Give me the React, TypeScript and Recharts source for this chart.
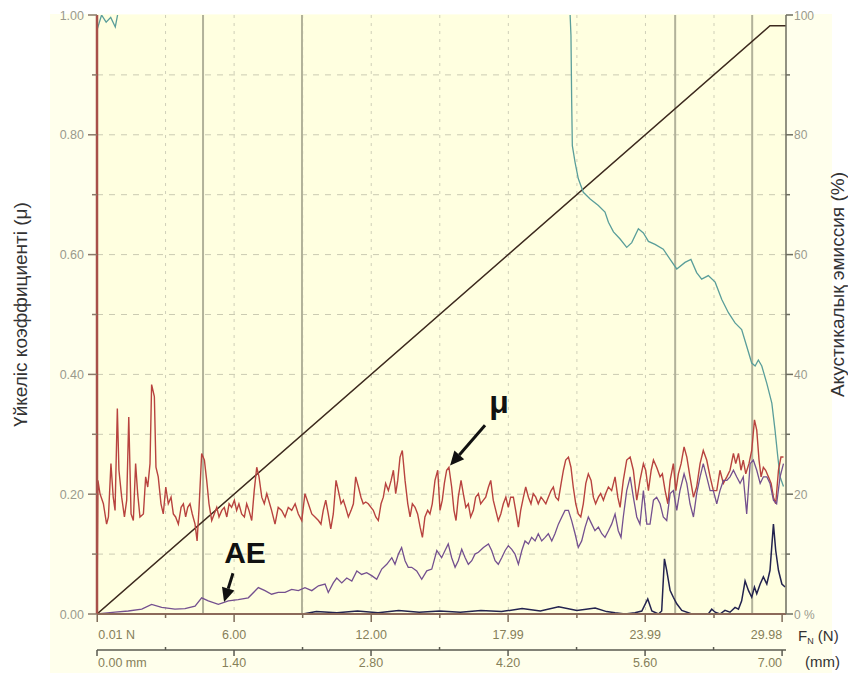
import { LineChart, Line, XAxis, YAxis, CartesianGrid, ReferenceLine, Label } from "recharts";

// scratch test, progressive load 0.01 -> 29.98 N over 7 mm
// each trace is [normal load (N), value]

const muTrace: [number, number][] = [
  [0, 0], [0.04, 0.223], [0.13, 0.201], [0.28, 0.184], [0.42, 0.15], [0.5, 0.162], [0.61, 0.251], [0.71, 0.195],
  [0.79, 0.173], [0.89, 0.343], [0.96, 0.24], [1.08, 0.195], [1.2, 0.162], [1.3, 0.19], [1.39, 0.329], [1.49, 0.167],
  [1.59, 0.156], [1.69, 0.251], [1.78, 0.201], [1.88, 0.162], [2.03, 0.167], [2.13, 0.229], [2.22, 0.212], [2.32, 0.251],
  [2.39, 0.383], [2.51, 0.363], [2.58, 0.245], [2.68, 0.229], [2.8, 0.184], [2.9, 0.167], [3.01, 0.212], [3.12, 0.184],
  [3.24, 0.195], [3.34, 0.167], [3.44, 0.162], [3.56, 0.15], [3.68, 0.178], [3.78, 0.184], [3.88, 0.162], [3.97, 0.178],
  [4.07, 0.184], [4.17, 0.167], [4.29, 0.15], [4.38, 0.122], [4.46, 0.173], [4.58, 0.268], [4.7, 0.257], [4.8, 0.223],
  [4.9, 0.184], [5.02, 0.156], [5.13, 0.167], [5.24, 0.178], [5.34, 0.162], [5.46, 0.173], [5.57, 0.178], [5.68, 0.162],
  [5.78, 0.184], [5.89, 0.178], [6.01, 0.19], [6.11, 0.173], [6.21, 0.184], [6.33, 0.167], [6.45, 0.162], [6.55, 0.184],
  [6.65, 0.173], [6.77, 0.156], [6.88, 0.206], [6.99, 0.245], [7.09, 0.229], [7.21, 0.195], [7.32, 0.184], [7.43, 0.201],
  [7.64, 0.173], [7.79, 0.15], [7.93, 0.178], [8.08, 0.173], [8.23, 0.162], [8.37, 0.178], [8.52, 0.173], [8.67, 0.184],
  [8.81, 0.167], [8.96, 0.156], [9.1, 0.201], [9.25, 0.184], [9.4, 0.167], [9.54, 0.162], [9.69, 0.156], [9.8, 0.15],
  [9.9, 0.173], [10.01, 0.19], [10.12, 0.167], [10.23, 0.142], [10.34, 0.167], [10.46, 0.223], [10.56, 0.206], [10.68, 0.184],
  [10.78, 0.19], [10.88, 0.178], [11.0, 0.162], [11.12, 0.173], [11.22, 0.184], [11.32, 0.229], [11.44, 0.212], [11.55, 0.195],
  [11.65, 0.184], [11.76, 0.187], [11.87, 0.184], [11.99, 0.178], [12.09, 0.173], [12.2, 0.162], [12.31, 0.156], [12.43, 0.184],
  [12.53, 0.195], [12.63, 0.218], [12.75, 0.206], [12.87, 0.223], [12.97, 0.24], [13.07, 0.201], [13.16, 0.223], [13.26, 0.262],
  [13.36, 0.273], [13.48, 0.223], [13.6, 0.184], [13.7, 0.162], [13.8, 0.184], [13.92, 0.178], [14.03, 0.167], [14.14, 0.145],
  [14.24, 0.128], [14.35, 0.162], [14.47, 0.173], [14.57, 0.167], [14.67, 0.184], [14.79, 0.223], [14.91, 0.24], [15.01, 0.173],
  [15.11, 0.19], [15.2, 0.218], [15.3, 0.24], [15.4, 0.245], [15.52, 0.212], [15.62, 0.173], [15.71, 0.156], [15.81, 0.195],
  [15.93, 0.223], [16.03, 0.201], [16.14, 0.178], [16.25, 0.184], [16.35, 0.162], [16.47, 0.173], [16.57, 0.195], [16.69, 0.201],
  [16.79, 0.184], [16.91, 0.19], [17.01, 0.195], [17.13, 0.212], [17.23, 0.223], [17.34, 0.19], [17.45, 0.173], [17.56, 0.156],
  [17.67, 0.167], [17.78, 0.184], [17.89, 0.195], [18.0, 0.178], [18.1, 0.195], [18.22, 0.195], [18.32, 0.173], [18.44, 0.145],
  [18.54, 0.173], [18.66, 0.195], [18.76, 0.212], [18.88, 0.195], [18.99, 0.184], [19.09, 0.201], [19.2, 0.195], [19.31, 0.184],
  [19.43, 0.195], [19.53, 0.19], [19.64, 0.184], [19.75, 0.195], [19.87, 0.206], [19.97, 0.212], [20.07, 0.195], [20.19, 0.19],
  [20.31, 0.218], [20.41, 0.24], [20.51, 0.257], [20.63, 0.262], [20.74, 0.245], [20.84, 0.212], [20.95, 0.184], [21.06, 0.167],
  [21.17, 0.162], [21.28, 0.184], [21.39, 0.218], [21.5, 0.234], [21.62, 0.223], [21.72, 0.195], [21.82, 0.184], [21.94, 0.195],
  [22.04, 0.201], [22.16, 0.19], [22.26, 0.201], [22.38, 0.212], [22.52, 0.206], [22.67, 0.229], [22.79, 0.195], [22.89, 0.178],
  [23.03, 0.223], [23.18, 0.257], [23.33, 0.262], [23.47, 0.24], [23.62, 0.19], [23.76, 0.223], [23.91, 0.251], [24.01, 0.24],
  [24.13, 0.206], [24.25, 0.24], [24.35, 0.257], [24.49, 0.245], [24.64, 0.229], [24.74, 0.234], [24.86, 0.206], [24.98, 0.184],
  [25.08, 0.223], [25.22, 0.251], [25.33, 0.206], [25.44, 0.234], [25.56, 0.251], [25.69, 0.279], [25.81, 0.262], [25.95, 0.229],
  [26.1, 0.195], [26.24, 0.212], [26.39, 0.251], [26.53, 0.273], [26.68, 0.257], [26.83, 0.229], [26.97, 0.206], [27.12, 0.206],
  [27.26, 0.24], [27.41, 0.218], [27.56, 0.229], [27.7, 0.24], [27.85, 0.268], [27.95, 0.251], [28.07, 0.268], [28.18, 0.24],
  [28.28, 0.257], [28.39, 0.234], [28.53, 0.251], [28.65, 0.273], [28.77, 0.324], [28.87, 0.307], [28.97, 0.257], [29.06, 0.229],
  [29.16, 0.245], [29.26, 0.24], [29.38, 0.229], [29.5, 0.218], [29.6, 0.195], [29.7, 0.184], [29.82, 0.24], [29.93, 0.262],
  [30.04, 0.262],
];

// acoustic emission, %
const aeTrace: [number, number][] = [
  [0, 0], [0.79, 0.3], [1.37, 0.5], [1.96, 0.8], [2.39, 1.6], [2.83, 1.1], [3.41, 0.8], [3.85, 0.9], [4.29, 1.3],
  [4.58, 2.7], [4.87, 2.2], [5.31, 1.6], [5.75, 2.2], [6.18, 2.4], [6.62, 2.7], [7.06, 4.4], [7.35, 3.9], [7.64, 3.3],
  [7.93, 3.6], [8.23, 3.6], [8.52, 4.1], [8.81, 3.9], [9.1, 4.4], [9.4, 3.9], [9.69, 4.7], [9.98, 5.0], [10.12, 3.6],
  [10.34, 5.2], [10.49, 6.0], [10.71, 5.2], [10.93, 6.0], [11.15, 5.5], [11.37, 7.2], [11.58, 6.6], [11.8, 6.9],
  [12.02, 6.4], [12.24, 5.8], [12.46, 7.5], [12.68, 8.3], [12.9, 9.4], [13.04, 8.3], [13.19, 10.0], [13.33, 11.1],
  [13.48, 8.9], [13.62, 7.8], [13.77, 7.8], [13.99, 7.2], [14.21, 5.8], [14.43, 7.2], [14.65, 7.5], [14.87, 10.6],
  [15.08, 9.4], [15.23, 10.6], [15.37, 11.7], [15.52, 9.4], [15.67, 7.8], [15.81, 8.9], [15.96, 10.8], [16.11, 9.4],
  [16.25, 8.3], [16.4, 8.9], [16.54, 10.0], [16.69, 10.3], [16.91, 11.1], [17.13, 11.7], [17.27, 10.6], [17.42, 8.9],
  [17.56, 8.3], [17.71, 9.4], [17.86, 10.6], [18.0, 11.4], [18.15, 10.8], [18.29, 10.0], [18.44, 8.3], [18.59, 10.6],
  [18.73, 12.2], [18.88, 11.7], [19.02, 12.8], [19.17, 12.2], [19.31, 13.4], [19.46, 12.2], [19.61, 12.8], [19.75, 13.4],
  [19.9, 12.2], [20.04, 13.4], [20.19, 15.0], [20.34, 16.2], [20.48, 17.3], [20.63, 17.3], [20.77, 15.6], [20.92, 13.4],
  [21.06, 11.1], [21.21, 12.2], [21.36, 14.5], [21.5, 16.2], [21.65, 15.0], [21.79, 13.9], [21.94, 14.5], [22.09, 13.4],
  [22.23, 12.8], [22.38, 13.9], [22.52, 15.0], [22.67, 16.7], [22.81, 13.9], [22.93, 12.8], [23.03, 16.2], [23.18, 20.6],
  [23.33, 22.9], [23.47, 19.5], [23.62, 16.2], [23.76, 15.0], [23.91, 20.6], [24.06, 15.0], [24.2, 15.0], [24.35, 19.0],
  [24.49, 19.5], [24.64, 18.4], [24.78, 16.2], [24.93, 15.6], [25.08, 20.1], [25.22, 20.6], [25.37, 17.3], [25.51, 20.6],
  [25.69, 23.4], [25.81, 21.8], [25.95, 18.4], [26.1, 16.2], [26.24, 20.1], [26.39, 22.9], [26.53, 25.1], [26.68, 22.9],
  [26.83, 20.6], [26.97, 20.6], [27.12, 18.4], [27.26, 20.6], [27.41, 22.3], [27.56, 22.3], [27.7, 22.9], [27.85, 24.0],
  [27.99, 22.9], [28.14, 21.8], [28.28, 22.9], [28.43, 16.7], [28.58, 25.1], [28.72, 25.7], [28.87, 24.0], [29.02, 21.8],
  [29.16, 22.9], [29.31, 22.9], [29.45, 21.8], [29.6, 19.0], [29.74, 18.4], [29.89, 22.9], [30.04, 25.1],
];

// burst signal, %
const burstTrace: [number, number][] = [
  [0, 0], [9.0, 0], [9.6, 0.4], [10.5, 0.2], [11.4, 0.5], [12.3, 0.2], [13.2, 0.6], [14.1, 0.3], [15.0, 0.5],
  [15.9, 0.3], [16.8, 0.6], [17.7, 0.4], [18.6, 0.9], [19.4, 0.5], [20.2, 1.2], [21.0, 0.6], [21.8, 1.0], [22.3, 0.4],
  [22.67, 0.2], [23.11, 0], [23.54, 0.2], [23.84, 0.5], [24.1, 2.5], [24.28, 0.5], [24.57, 0], [24.71, 0.5],
  [24.83, 9.2], [24.93, 7.3], [25.08, 3.9], [25.22, 2.8], [25.37, 1.7], [25.59, 0.6], [26.03, 0], [26.46, 0],
  [26.75, 0], [26.9, 0.8], [27.05, 0.3], [27.26, 0], [27.48, 0.6], [27.7, 0.3], [27.92, 1.1], [28.07, 0.8],
  [28.21, 2.2], [28.36, 5.5], [28.51, 3.9], [28.65, 2.8], [28.77, 4.5], [28.87, 3.4], [29.02, 5.0], [29.16, 6.2],
  [29.31, 5.0], [29.45, 7.3], [29.6, 15.0], [29.7, 10.6], [29.82, 7.3], [29.97, 5.0], [30.11, 4.5],
];

// depth trace, % of full scale (runs off the top between ~1 and ~20.7 N)
const depthTrace: [number, number][] = [
  [0, 97.5], [0.2, 100], [0.4, 98.8], [0.6, 99.6], [0.8, 98], [0.95, 101], [1.1, 112], [20.6, 112],
  [20.7, 100.3], [20.74, 96.6], [20.77, 86], [20.8, 78.2], [20.92, 75.4], [21.06, 72.7], [21.28, 70.4],
  [21.58, 69.3], [21.94, 68.2], [22.23, 67.1], [22.38, 65.4], [22.6, 63.8], [22.89, 62.6], [23.18, 61.2],
  [23.4, 62.0], [23.69, 64.3], [23.91, 63.6], [24.13, 62.2], [24.42, 61.7], [24.78, 60.9], [25.08, 59.2],
  [25.37, 57.6], [25.73, 58.7], [25.99, 59.2], [26.24, 57.0], [26.46, 55.9], [26.75, 56.5], [27.05, 55.4],
  [27.34, 52.5], [27.63, 50.3], [27.92, 48.6], [28.21, 47.5], [28.43, 44.7], [28.65, 41.9], [28.8, 41.4],
  [28.94, 42.4], [29.09, 41.4], [29.31, 38.5], [29.53, 35.2], [29.67, 30.7], [29.79, 26.3], [29.89, 22.9],
  [30.04, 21.3],
];

// applied normal load, % of full scale
const loadTrace: [number, number][] = [[0, 0], [29.45, 98.2], [30.15, 98.2]];

// loads where micrographs were taken
const micrographs = [4.64, 8.97, 25.3, 28.67];

const nMajor = [0.01, 6.0, 12.0, 17.99, 23.99, 29.98];
const nMinor = [3, 9, 15, 21, 27];
const mmMajor = [0, 1.4, 2.8, 4.2, 5.6, 7.0];
const mmMinor = [0.7, 2.1, 3.5, 4.9, 6.3];
const mmRange = [0, 7.04];
const muTicks = [0, 0.1, 0.2, 0.3, 0.4, 0.5, 0.6, 0.7, 0.8, 0.9, 1];
const pctTicks = [0, 10, 20, 30, 40, 50, 60, 70, 80, 90, 100];
const gridMu = [0.1, 0.2, 0.3, 0.4, 0.5, 0.6, 0.7, 0.8, 0.9];
const gridN = [3, 6, 9, 12, 15, 18, 21, 24, 27];

const notes = [
  { text: "μ", from: [16.98, 0.315], to: [15.45, 0.248], dx: 14, dy: -12, size: 32 },
  { text: "AE", from: [5.95, 0.068], to: [5.56, 0.02], dx: 12, dy: -10, size: 30 },
];

const FONT = "'Liberation Sans', Arial, sans-serif";
const LABEL = "#9a9a8c";
const XLABEL = "#86805a";

const toPoints = (rows: [number, number][]) => rows.map(([x, y]) => ({ x, y }));

function NTick(props: any) {
  const { x, y, payload } = props;
  const v = payload.value;
  const i = nMajor.indexOf(v);
  const major = i >= 0;
  const anchor = i === 0 ? "start" : i === nMajor.length - 1 ? "end" : "middle";
  return (
    <g>
      <line x1={x} x2={x} y1={y} y2={y + (major ? 8 : 4)} stroke="#7d6a58" strokeWidth={1.5} />
      {major && (
        <text x={x + (i === 0 ? 1 : 0)} y={y + 25} textAnchor={anchor} fontSize={12.5} fill={XLABEL} fontFamily={FONT}>
          {i === 0 ? `${v.toFixed(2)} N` : v.toFixed(2)}
        </text>
      )}
    </g>
  );
}

function MmTick(props: any) {
  const { x, y, payload } = props;
  const v = payload.value;
  const i = mmMajor.indexOf(v);
  const major = i >= 0;
  const anchor = i === 0 ? "start" : i === mmMajor.length - 1 ? "end" : "middle";
  return (
    <g>
      <line x1={x} x2={x} y1={y - (major ? 0 : 3)} y2={y + (major ? 6 : 0)} stroke="#5a5a50" strokeWidth={1.5} />
      {major && (
        <text x={x + (i === 0 ? 1 : 0)} y={y + 17} textAnchor={anchor} fontSize={12.5} fill={XLABEL} fontFamily={FONT}>
          {i === 0 ? `${v.toFixed(2)} mm` : v.toFixed(2)}
        </text>
      )}
    </g>
  );
}

function MuTick(props: any) {
  const { x, y, payload } = props;
  const v = payload.value;
  const major = Math.round(v * 10) % 2 === 0;
  return (
    <g>
      <line x1={x - (major ? 9 : 5)} x2={x} y1={y} y2={y} stroke="#8a7a6a" strokeWidth={1.5} />
      {major && (
        <text x={x - 13} y={y} dy={4.5} textAnchor="end" fontSize={12.5} fill={LABEL} fontFamily={FONT}>
          {v.toFixed(2)}
        </text>
      )}
    </g>
  );
}

function PctTick(props: any) {
  const { x, y, payload } = props;
  const v = payload.value;
  const major = v % 20 === 0;
  return (
    <g>
      <line x1={x} x2={x + (major ? 7 : 4)} y1={y} y2={y} stroke="#6e6e60" strokeWidth={1.5} />
      {major && (
        <text x={x + 8} y={y} dy={4.5} textAnchor="start" fontSize={12} fill={LABEL} fontFamily={FONT}>
          {v === 0 ? "0 %" : v}
        </text>
      )}
    </g>
  );
}

function arrow(text: string, size: number, dx: number, dy: number) {
  return (p: any) => {
    const { x1, y1, x2, y2 } = p;
    const a = Math.atan2(y2 - y1, x2 - x1);
    const head = 14;
    const half = 6.5;
    const bx = x2 - head * Math.cos(a);
    const by = y2 - head * Math.sin(a);
    const nx = -Math.sin(a) * half;
    const ny = Math.cos(a) * half;
    return (
      <g>
        <line x1={x1} y1={y1} x2={bx} y2={by} stroke="#111" strokeWidth={3} />
        <polygon points={`${x2},${y2} ${bx + nx},${by + ny} ${bx - nx},${by - ny}`} fill="#111" />
        <text x={x1 + dx} y={y1 + dy} textAnchor="middle" fontSize={size} fontWeight="bold" fill="#111" fontFamily={FONT}>
          {text}
        </text>
      </g>
    );
  };
}

export default function App() {
  return (
    <div style={{ position: "absolute", left: 0, top: 0, width: 848, height: 673, background: "#fff", overflow: "hidden" }}>
      <div style={{ position: "absolute", left: 50, top: 14, width: 782, height: 659, background: "#FFFFEC" }} />
      <LineChart width={848} height={673} margin={{ top: 15, right: 0, bottom: 0, left: 0 }}>
        <CartesianGrid
          xAxisId="force"
          yAxisId="mu"
          fill="#FFFFE0"
          vertical={false}
          horizontalValues={gridMu}
          stroke="#cbcbb2"
          strokeDasharray="6 6"
        />
        <CartesianGrid
          xAxisId="force"
          yAxisId="mu"
          horizontal={false}
          verticalValues={gridN}
          stroke="#cfcfb8"
          strokeDasharray="3 5"
        />
        {/* inner bottom axis: normal load */}
        <XAxis
          xAxisId="force"
          type="number"
          dataKey="x"
          domain={[0, 30.15]}
          allowDataOverflow
          ticks={[...nMajor, ...nMinor].sort((a, b) => a - b)}
          interval={0}
          tick={<NTick />}
          tickLine={false}
          tickSize={0}
          tickMargin={0}
          height={36}
          axisLine={{ stroke: "#8c6a5a", strokeWidth: 2 }}
        >
          <Label
            content={(p: any) => (
              <text x={p.viewBox.x + p.viewBox.width + 12} y={p.viewBox.y + 27} fontSize={15} fill="#333" fontFamily={FONT}>
                F<tspan fontSize={9} dy={3}>N</tspan>
                <tspan dy={-3}> (N)</tspan>
              </text>
            )}
          />
        </XAxis>
        {/* outer bottom axis: sliding distance */}
        <XAxis
          xAxisId="slide"
          type="number"
          dataKey="x"
          domain={mmRange}
          allowDataOverflow
          ticks={[...mmMajor, ...mmMinor].sort((a, b) => a - b)}
          interval={0}
          tick={<MmTick />}
          tickLine={false}
          tickSize={0}
          tickMargin={0}
          height={23}
          axisLine={{ stroke: "#5a5a50", strokeWidth: 1.5 }}
        >
          <Label
            content={(p: any) => (
              <text x={p.viewBox.x + p.viewBox.width + 19} y={p.viewBox.y + 17} fontSize={15} fill="#333" fontFamily={FONT}>
                (mm)
              </text>
            )}
          />
        </XAxis>
        <YAxis
          yAxisId="mu"
          type="number"
          domain={[0, 1]}
          allowDataOverflow
          ticks={muTicks}
          interval={0}
          tick={<MuTick />}
          tickLine={false}
          tickSize={0}
          tickMargin={0}
          width={97}
          axisLine={{ stroke: "#a8504a", strokeWidth: 2.5 }}
        >
          <Label
            content={(p: any) => {
              const cy = p.viewBox.y + p.viewBox.height * 0.5;
              return (
                <text x={20} y={cy} transform={`rotate(-90 20 ${cy})`} textAnchor="middle" dominantBaseline="central" fontSize={19} fill="#333" fontFamily={FONT}>
                  Үйкеліс коэффициенті (μ)
                </text>
              );
            }}
          />
        </YAxis>
        <YAxis
          yAxisId="pct"
          orientation="right"
          type="number"
          domain={[0, 100]}
          allowDataOverflow
          ticks={pctTicks}
          interval={0}
          tick={<PctTick />}
          tickLine={false}
          tickSize={0}
          tickMargin={0}
          width={62}
          axisLine={{ stroke: "#6e6e60", strokeWidth: 1.5 }}
        >
          <Label
            content={(p: any) => {
              const cx = p.viewBox.x + p.viewBox.width - 10;
              const cy = p.viewBox.y + p.viewBox.height * 0.45;
              return (
                <text x={cx} y={cy} transform={`rotate(-90 ${cx} ${cy})`} textAnchor="middle" dominantBaseline="central" fontSize={19} fill="#333" fontFamily={FONT}>
                  Акустикалық эмиссия (%)
                </text>
              );
            }}
          />
        </YAxis>

        {micrographs.map((m) => (
          <ReferenceLine key={m} x={m} xAxisId="force" yAxisId="mu" stroke="#b2b29a" strokeWidth={2} />
        ))}

        {/* unstroked carrier so the distance scale has a series of its own */}
        <Line xAxisId="slide" yAxisId="mu" data={mmRange.map((x) => ({ x, y: 0 }))} dataKey="y" stroke="none" dot={false} legendType="none" isAnimationActive={false} />

        <Line xAxisId="force" yAxisId="pct" data={toPoints(loadTrace)} dataKey="y" type="linear" stroke="#3d2a1e" strokeWidth={1.5} dot={false} isAnimationActive={false} />
        <Line xAxisId="force" yAxisId="pct" data={toPoints(depthTrace)} dataKey="y" type="linear" stroke="#5a9e9a" strokeWidth={1.3} dot={false} isAnimationActive={false} />
        <Line xAxisId="force" yAxisId="pct" data={toPoints(burstTrace)} dataKey="y" type="linear" stroke="#23234f" strokeWidth={1.5} dot={false} isAnimationActive={false} />
        <Line xAxisId="force" yAxisId="mu" data={toPoints(muTrace)} dataKey="y" type="linear" stroke="#b8433f" strokeWidth={1.4} dot={false} isAnimationActive={false} />
        <Line xAxisId="force" yAxisId="pct" data={toPoints(aeTrace)} dataKey="y" type="linear" stroke="#74508f" strokeWidth={1.3} dot={false} isAnimationActive={false} />

        {notes.map((n) => (
          <ReferenceLine
            key={n.text}
            xAxisId="force"
            yAxisId="mu"
            ifOverflow="visible"
            segment={[{ x: n.from[0], y: n.from[1] }, { x: n.to[0], y: n.to[1] }]}
            shape={arrow(n.text, n.size, n.dx, n.dy)}
          />
        ))}
      </LineChart>
    </div>
  );
}
